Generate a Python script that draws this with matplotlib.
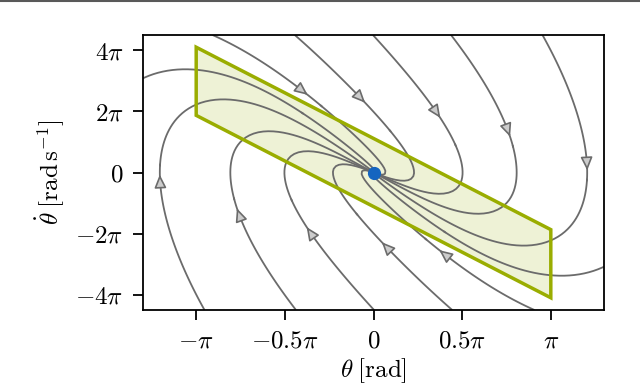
import numpy as np
import matplotlib
matplotlib.use('Agg')
import matplotlib.pyplot as plt
from matplotlib.lines import Line2D
from matplotlib.patches import Polygon

plt.rcParams['mathtext.fontset'] = 'cm'
plt.rcParams['font.family'] = 'serif'
plt.rcParams['font.serif'] = ['DejaVu Serif']
plt.rcParams['font.size'] = 18

# closed loop inverted pendulum, state feedback gains
g_over_l = 9.81
k_theta = 19.67
k_omega = 6.35

# seed points of the drawn trajectories (units of pi)
seed_x = [-0.90, -0.44, 0.0, 0.44, 0.955, -0.955, -0.44, 0.0, 0.44, 0.90, -1.29, 1.29]
seed_y = [4.48, 4.48, 4.48, 4.48, 4.48, -4.48, -4.48, -4.48, -4.48, -4.48, 3.11, -3.11]

# where the arrow heads sit (units of pi)
arrow_x = [-0.39, -0.07, 0.355, 0.76, 1.21, -1.21, -0.76, -0.355, 0.07, 0.39]
arrow_y = [2.65, 2.44, 1.95, 1.33, 0.22, -0.22, -1.33, -1.95, -2.44, -2.65]

# parallelogram region (units of pi)
region_x = [-1, -1, 1, 1]
region_y = [4.1, 1.87, -4.1, -1.87]

x_ticks = [-1, -0.5, 0, 0.5, 1]
x_labels = [r'$-\pi$', r'$-0.5\pi$', r'$0$', r'$0.5\pi$', r'$\pi$']
y_ticks = [-4, -2, 0, 2, 4]
y_labels = [r'$-4\pi$', r'$-2\pi$', r'$0$', r'$2\pi$', r'$4\pi$']

x_lim = 1.3
y_lim = 4.5

fig = plt.figure(figsize=(6.4, 3.86), dpi=100)
ax = fig.add_axes([143/640, 1-310/386, 461/640, 275/386])
fig.add_artist(Line2D([0, 1], [0.998, 0.998], color='0.35', lw=1.5))

pi = np.pi
x = np.linspace(-x_lim*pi, x_lim*pi, 301)
y = np.linspace(-y_lim*pi, y_lim*pi, 301)
X, Y = np.meshgrid(x, y)
U = Y
V = g_over_l*np.sin(X) - k_theta*X - k_omega*Y

ax.set_xlim(-x_lim*pi, x_lim*pi)
ax.set_ylim(-y_lim*pi, y_lim*pi)

verts = np.column_stack([region_x, region_y])*pi
ax.add_patch(Polygon(verts, closed=True, facecolor='#9baf00', alpha=0.16,
                     edgecolor='none', zorder=1))

seeds = np.column_stack([seed_x, seed_y])*pi
sp = ax.streamplot(x, y, U, V, start_points=seeds, density=3,
                   color='0.42', linewidth=1.3, arrowstyle='-', arrowsize=0.01,
                   broken_streamlines=False, integration_direction='both',
                   zorder=2)

ax.add_patch(Polygon(verts, closed=True, facecolor='none',
                     edgecolor='#9aad00', lw=2.5, zorder=3, joinstyle='miter'))

# arrow heads, snapped onto the nearest streamline segment
pairs = []
for line in sp.lines.get_segments():
    line = np.asarray(line)
    if len(line) > 1:
        pairs.append(np.stack([line[:-1], line[1:]], axis=1))
pairs = np.concatenate(pairs)
seg_disp = ax.transData.transform(pairs.reshape(-1, 2)).reshape(-1, 2, 2)
mids = seg_disp.mean(axis=1)
lens = np.hypot(*(seg_disp[:, 1] - seg_disp[:, 0]).T)
inv = ax.transData.inverted()
for axx, ayy in zip(arrow_x, arrow_y):
    p = ax.transData.transform((axx*pi, ayy*pi))
    dist = np.hypot(*(mids - p).T)
    dist[lens < 1e-6] = np.inf
    i = np.argmin(dist)
    d = seg_disp[i, 1] - seg_disp[i, 0]
    d = d/np.hypot(*d)
    c = mids[i]
    tail = inv.transform(c - 2*d)
    tip = inv.transform(c + 5*d)
    ax.annotate('', xy=tip, xytext=tail,
                arrowprops=dict(arrowstyle='-|>,head_length=0.4,head_width=0.18',
                                facecolor='0.8', edgecolor='0.42', lw=1.2,
                                shrinkA=0, shrinkB=0, mutation_scale=20),
                zorder=4)

ax.plot([0], [0], 'o', color='#1565c0', ms=8.5, zorder=5)

ax.set_xticks(np.array(x_ticks)*pi)
ax.set_xticklabels(x_labels)
ax.set_yticks(np.array(y_ticks)*pi)
ax.set_yticklabels(y_labels)
ax.tick_params(length=7, width=1.3, pad=7)
for s in ax.spines.values():
    s.set_linewidth(1.3)
ax.set_xlabel(r'$\theta\;[\mathrm{rad}]$', labelpad=3)
ax.set_ylabel(r'$\dot{\theta}\;[\mathrm{rad\,s^{-1}}]$', labelpad=6)

fig.savefig('out.png', dpi=100)
